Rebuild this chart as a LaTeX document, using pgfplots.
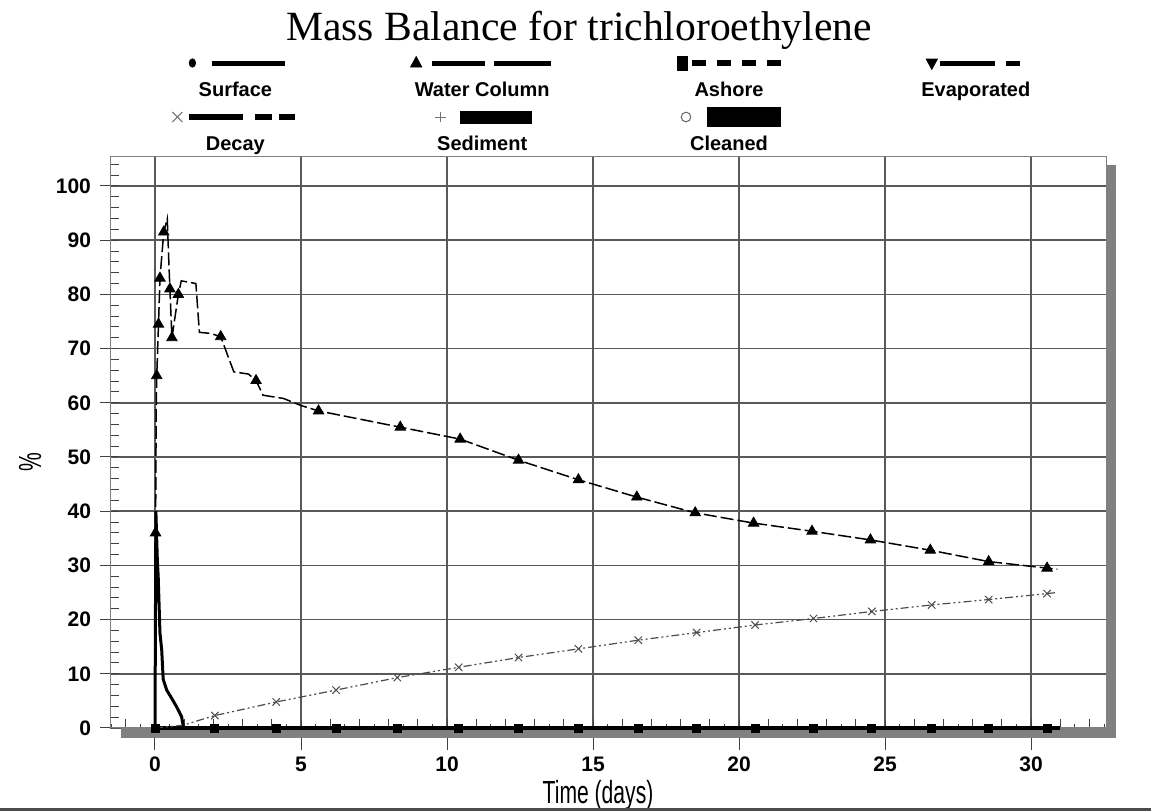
\documentclass[border=0pt]{standalone}
\usepackage{pgfplots}
\pgfplotsset{compat=1.18}
\usepackage{fontspec}
\setmainfont{Liberation Sans}
\newfontfamily\titlefont{Liberation Serif}
\newfontfamily\narrowfont[FakeStretch=0.66]{Liberation Sans}
\newcommand\legfont{\fontsize{10}{12}\selectfont\bfseries}
\newcommand\tickfont{\fontsize{10.5}{12}\selectfont\bfseries}

% Water column (line)
\pgfplotstableread{
t v
0 0
0.02 36
0.04 58
0.06 65
0.12 74.5
0.17 83
0.30 91.5
0.42 94
0.46 88
0.51 81
0.58 72
0.80 80
0.90 82.5
1.40 82
1.52 73
1.90 72.8
2.25 72.2
2.70 65.7
3.20 65.3
3.46 64.1
3.70 61.4
4.40 60.8
5.00 59.5
5.60 58.5
8.40 55.5
10.45 53.3
12.45 49.4
14.50 45.8
16.50 42.6
18.50 39.7
20.50 37.8
22.50 36.3
24.50 34.7
26.55 32.8
28.55 30.7
30.55 29.5
30.90 29.3
}\watercol

% Water column markers
\pgfplotstableread{
t v
0.02 36
0.06 65
0.12 74.5
0.17 83
0.30 91.5
0.51 81
0.58 72
0.80 80
2.25 72.2
3.46 64.1
5.60 58.5
8.40 55.5
10.45 53.3
12.45 49.4
14.50 45.8
16.50 42.6
18.50 39.7
20.50 37.8
22.50 36.3
24.50 34.7
26.55 32.8
28.55 30.7
30.55 29.5
}\watermarks

% Surface
\pgfplotstableread{
t v
0 0
0.03 40
0.08 31
0.11 27.9
0.17 17.5
0.23 14.4
0.28 9
0.40 7
0.57 5.5
0.74 3.9
0.91 2.1
0.97 0.3
1.05 0
31.0 0
}\surface

% Decay
\pgfplotstableread{
t v
0 0
0.95 0.5
2.05 2.3
4.15 4.8
6.20 7.0
8.30 9.3
10.40 11.2
12.45 13.0
14.50 14.6
16.55 16.2
18.55 17.6
20.55 19.0
22.55 20.2
24.55 21.5
26.60 22.7
28.55 23.7
30.55 24.8
30.90 25.0
}\decay

% Ashore / Evaporated / Sediment / Cleaned (all at zero)
\pgfplotstableread{
t v
0 0
2.05 0
4.15 0
6.20 0
8.30 0
10.40 0
12.45 0
14.50 0
16.55 0
18.55 0
20.55 0
22.55 0
24.55 0
26.60 0
28.55 0
30.55 0
}\zeromarks

\pgfplotstableread{
t v
0 0
31.0 0
}\zeroline

\newcommand\cellbox{\path[draw=none,fill=none] (-61.2pt,6pt) rectangle (61.2pt,-21pt);}
\newcommand\leglabel[1]{\node[font=\legfont, inner sep=0pt, anchor=center, draw=none, fill=none, text=black] at (0,-14pt) {#1};}

\begin{document}
\begin{tikzpicture}
\begin{axis}[
  set layers,
  at={(55pt,42pt)}, anchor=south west,
  scale only axis, width=498pt, height=285.5pt,
  xmin=-1.541, xmax=32.568, ymin=0, ymax=105.35,
  clip=false,
  axis line style={black!50, line width=0.5pt},
  xtick={-1,0,...,32}, xticklabels={},
  minor xtick={-1.5,-0.5,...,32.5},
  ytick={0,2,...,104}, yticklabels={},
  tick align=inside,
  xtick pos=left, ytick pos=left,
  major tick length=4.5pt, minor tick length=2pt,
  tick style={black!75, line width=0.5pt},
  extra x ticks={0,5,...,30},
  extra y ticks={0,10,...,100},
  extra x tick style={grid=major, tick align=outside, major tick length=11pt},
  extra y tick style={grid=major, tick align=outside, major tick length=5pt},
  major grid style={black!65, line width=0.8pt},
  /pgf/number format/assume math mode=true,
  scaled ticks=false,
  tick label style={font=\tickfont},
  yticklabel style={xshift=-1pt},
  xlabel={Time (days)}, ylabel={\%},
  every axis x label/.style={at={(rel axis cs:0.49,-0.1173)}, anchor=center, font=\narrowfont\fontsize{16}{18}\selectfont},
  every axis y label/.style={at={(rel axis cs:-0.0803,0.4658)}, anchor=center, rotate=90, font=\narrowfont\fontsize{16}{18}\selectfont},
  title={Mass Balance for trichloroethylene},
  every axis title/.style={at={(rel axis cs:0.4709,1.2225)}, anchor=center, font=\titlefont\fontsize{20.8}{24}\selectfont},
  legend columns=4,
  legend style={at={(rel axis cs:0.4986,1.1856)}, anchor=north, draw=none, fill=none,
    inner sep=0pt, outer sep=0pt, column sep=0pt, row sep=0pt,
    nodes={inner sep=0pt, outer sep=0pt}},
]
% shadow
\fill[black!50, on layer=axis background] ([yshift=-4pt]rel axis cs:1,1) rectangle ([xshift=5pt,yshift=-5pt]rel axis cs:1,0);
\fill[black!50, on layer=axis background] ([xshift=5.5pt]rel axis cs:0,0) rectangle ([xshift=5pt,yshift=-5pt]rel axis cs:1,0);

% zero-level series
\addplot[forget plot, black, line width=2pt] table[x=t,y=v] {\zeroline};
\addplot[forget plot, only marks, mark=square*, mark size=2pt, black] table[x=t,y=v] {\zeromarks};

% decay
\addplot[forget plot, black!70, line width=0.6pt, dash pattern=on 4pt off 1.5pt on 1pt off 1.5pt on 1pt off 1.5pt] table[x=t,y=v] {\decay};
\addplot[forget plot, only marks, mark=x, mark size=2.6pt, black!70, mark options={line width=0.5pt}, restrict x to domain=1:30.7] table[x=t,y=v] {\decay};

% surface
\addplot[forget plot, black, line width=1.5pt] table[x=t,y=v] {\surface};

% water column
\addplot[forget plot, black, line width=0.75pt, dash pattern=on 6.5pt off 2pt] table[x=t,y=v] {\watercol};
\addplot[forget plot, only marks, mark=triangle*, mark size=3pt, black] table[x=t,y=v] {\watermarks};

% legend
\addlegendimage{legend image code/.code={
  \cellbox
  \fill[black] (-21.5pt,0) ellipse (1.6pt and 2.1pt);
  \draw[black, line width=2.5pt] (-11.5pt,0) -- (25pt,0);
  \leglabel{Surface}
}}
\addlegendentry{}
\addlegendimage{legend image code/.code={
  \cellbox
  \fill[black] (-33pt,3.2pt) -- (-35.8pt,-2pt) -- (-30.2pt,-2pt) -- cycle;
  \draw[black, line width=2.5pt] (-25pt,0) -- (1.5pt,0) (6pt,0) -- (34.5pt,0);
  \leglabel{Water Column}
}}
\addlegendentry{}
\addlegendimage{legend image code/.code={
  \cellbox
  \fill[black] (-26pt,-3.5pt) rectangle (-21pt,3.5pt);
  \draw[black, line width=3pt] (-18.5pt,0) -- (-11.5pt,0) (-6pt,0) -- (1pt,0) (6.5pt,0) -- (13.5pt,0) (19pt,0) -- (26pt,0);
  \leglabel{Ashore}
}}
\addlegendentry{}
\addlegendimage{legend image code/.code={
  \cellbox
  \fill[black] (-22pt,-3.2pt) -- (-24.8pt,2pt) -- (-19.2pt,2pt) -- cycle;
  \draw[black, line width=2.5pt] (-18pt,0) -- (9.5pt,0) (15pt,0) -- (22pt,0);
  \leglabel{Evaporated}
}}
\addlegendentry{}
\addlegendimage{legend image code/.code={
  \cellbox
  \draw[black!55, line width=0.5pt] (-31.5pt,-2.5pt) -- (-26.5pt,2.5pt) (-31.5pt,2.5pt) -- (-26.5pt,-2.5pt);
  \draw[black, line width=3pt] (-23pt,0) -- (4pt,0) (10pt,0) -- (18.5pt,0) (22pt,0) -- (30pt,0);
  \leglabel{Decay}
}}
\addlegendentry{}
\addlegendimage{legend image code/.code={
  \cellbox
  \draw[black!55, line width=0.5pt] (-21pt,-2.7pt) -- (-21pt,2.7pt) (-23.7pt,0) -- (-18.3pt,0);
  \fill[black] (-11pt,-3pt) rectangle (24.5pt,3pt);
  \leglabel{Sediment}
}}
\addlegendentry{}
\addlegendimage{legend image code/.code={
  \cellbox
  \draw[black!60, line width=0.5pt] (-21.5pt,0) circle (2.4pt);
  \fill[black] (-11pt,-4.7pt) rectangle (25.5pt,4.7pt);
  \leglabel{Cleaned}
}}
\addlegendentry{}
\end{axis}
\draw[black!70, line width=1.5pt] (0,1.2pt) -- (575.5pt,1.2pt);
\pgfresetboundingbox
\useasboundingbox (0,0) rectangle (575.5pt,406pt);
\end{tikzpicture}
\end{document}
